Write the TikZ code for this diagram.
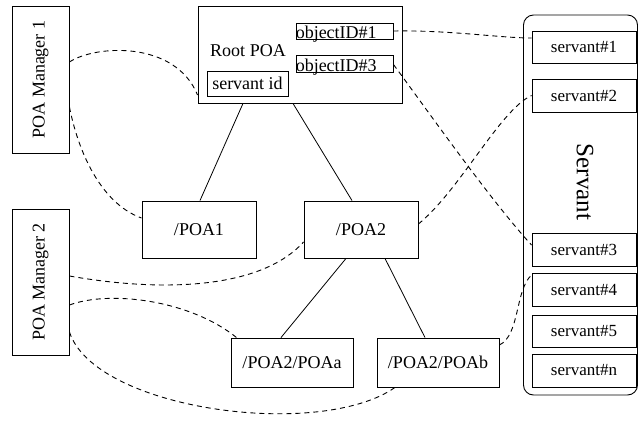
\documentclass[tikz,border=0pt]{standalone}
\usepackage{fontspec}
\setmainfont{Liberation Serif}
\begin{document}
\begin{tikzpicture}[x=1pt,y=-1pt,
  box/.style={draw,line width=0.9pt,inner sep=0pt,font=\fontsize{18}{20}\selectfont},
  sbox/.style={box,minimum width=104pt,font=\fontsize{17}{19}\selectfont},
  dsh/.style={draw,line width=0.9pt,dash pattern=on 5pt off 4pt},
  sol/.style={draw,line width=0.8pt}]
\useasboundingbox (0,0) rectangle (638,424);
% managers
\node[box,minimum width=57pt,minimum height=147pt] (pm1) at (40.5,79.5) {};
\node[rotate=90,font=\fontsize{18}{20}\selectfont] (pm1t) at (pm1.center) {POA Manager 1};
\node[box,minimum width=57pt,minimum height=146pt] (pm2) at (40.5,282) {};
\node[rotate=90,font=\fontsize{18}{20}\selectfont] (pm2t) at (pm2.center) {POA Manager 2};
% root POA
\node[box,minimum width=204pt,minimum height=97pt] (root) at (300,54.5) {};
\node[font=\fontsize{18}{20}\selectfont] (roott) at (248,51) {Root POA};
\node[box,minimum width=97pt,minimum height=16pt] (oid1) at (344.5,31) {};
\node[anchor=base west,inner sep=0pt,font=\fontsize{18}{20}\selectfont] (oid1t) at ([yshift=1]oid1.south west) {objectID\#1};
\node[box,minimum width=97pt,minimum height=17pt] (oid3) at (344.5,63.5) {};
\node[anchor=base west,inner sep=0pt,font=\fontsize{18}{20}\selectfont] (oid3t) at ([yshift=1]oid3.south west) {objectID\#3};
\node[box,minimum width=81pt,minimum height=25pt] (sid) at (247.5,83.5) {servant id};
% POAs
\node[box,minimum width=114pt,minimum height=57pt] (poa1) at (199,229.5) {/POA1};
\node[box,minimum width=114pt,minimum height=57pt] (poa2) at (361,229.5) {/POA2};
\node[box,minimum width=122pt,minimum height=49pt] (poaa) at (292,362.5) {/POA2/POAa};
\node[box,minimum width=122pt,minimum height=49pt] (poab) at (438,362.5) {/POA2/POAb};
% servant column
\node[box,rounded corners=10pt,minimum width=114pt,minimum height=380pt] (srv) at (580.5,205) {};
\node[rotate=-90,font=\fontsize{25}{27}\selectfont] (srvt) at (585,182) {Servant};
\node[sbox,minimum height=32pt] (s1) at (584,47) {servant\#1};
\node[sbox,minimum height=33pt] (s2) at (584,95.5) {servant\#2};
\node[sbox,minimum height=33pt] (s3) at (584,249.5) {servant\#3};
\node[sbox,minimum height=33pt] (s4) at (584,289.5) {servant\#4};
\node[sbox,minimum height=32pt] (s5) at (584,331) {servant\#5};
\node[sbox,minimum height=33pt] (sn) at (584,370.5) {servant\#n};
% tree
\draw[sol] ([xshift=-57]root.south) -- ([xshift=1]poa1.north);
\draw[sol] ([xshift=-7]root.south) -- ([xshift=-9]poa2.north);
\draw[sol] ([xshift=-15]poa2.south) -- ([xshift=-11]poaa.north);
\draw[sol] ([xshift=24]poa2.south) -- ([xshift=-13]poab.north);
% dashed links
\draw[dsh] ([yshift=17.5]pm1.east) .. controls (95,45) and (175,40) .. ([yshift=-40.5]root.west);
\draw[dsh] ([yshift=-27.5]pm1.east) .. controls (80,160) and (105,205) .. ([yshift=11.5]poa1.west);
\draw[dsh] ([yshift=6]pm2.east) .. controls (160,292) and (260,290) .. ([yshift=-12.5]poa2.west);
\draw[dsh] ([yshift=-23]pm2.east) .. controls (110,290) and (190,300) .. ([xshift=6]poaa.north west);
\draw[dsh] ([yshift=-50]pm2.east) .. controls (95,410) and (320,440) .. ([xshift=-43]poab.south);
\draw[dsh] ([yshift=17.5]poab.east) .. controls (520,335) and (515,290) .. ([yshift=14.5]s4.west);
\draw[dsh] ([yshift=5.5]poa2.east) .. controls (460,190) and (500,110) .. (s2.west);
\draw[dsh] (oid1.east) .. controls (450,30) and (500,38) .. ([yshift=9]s1.west);
\draw[dsh] ([yshift=-1]oid3.east) .. controls (420,100) and (490,200) .. ([yshift=4.5]s3.west);
\end{tikzpicture}
\end{document}
